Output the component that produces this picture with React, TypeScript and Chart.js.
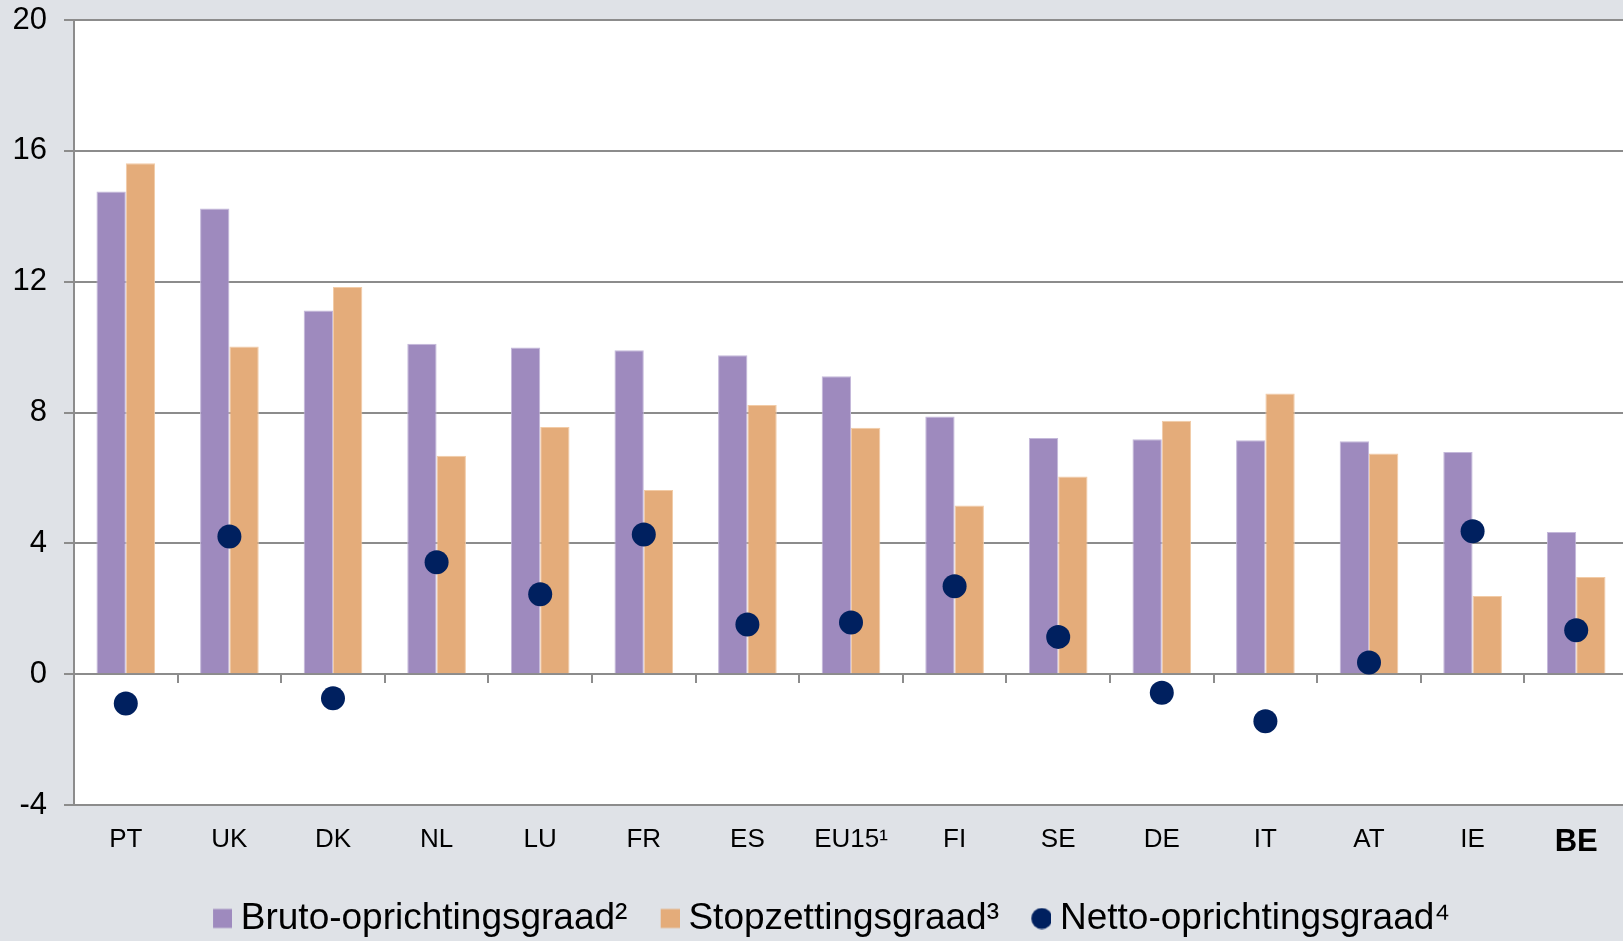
import React, { useEffect, useRef } from 'react';
import { Chart, registerables } from 'chart.js';

Chart.register(...registerables);

const categories = ['PT', 'UK', 'DK', 'NL', 'LU', 'FR', 'ES', 'EU15¹', 'FI', 'SE', 'DE', 'IT', 'AT', 'IE', 'BE'];
const brutoValues = [14.76, 14.24, 11.12, 10.1, 9.99, 9.9, 9.75, 9.11, 7.88, 7.22, 7.18, 7.15, 7.12, 6.79, 4.35];
const stopValues = [15.62, 10.02, 11.84, 6.68, 7.56, 5.63, 8.23, 7.53, 5.16, 6.04, 7.75, 8.58, 6.75, 2.39, 2.97];
const nettoValues = [-0.9, 4.21, -0.74, 3.42, 2.44, 4.27, 1.52, 1.58, 2.69, 1.14, -0.57, -1.44, 0.36, 4.37, 1.34];
const seriesNames = ['Bruto-oprichtingsgraad²', 'Stopzettingsgraad³', 'Netto-oprichtingsgraad⁴'];
const yMin = -4;
const yMax = 20;
const yStep = 4;

const FONT = '"Liberation Sans", Arial, Helvetica, sans-serif';
const BG = '#DFE2E7';
const GRID = '#8C8C8C';
const PURPLE = '#9E8ABE';
const ORANGE = '#E4AC7A';
const NAVY = '#00205F';

function makeIcon(kind: string, color: string) {
  const c = document.createElement('canvas');
  c.width = 52;
  c.height = 22;
  const ctx = c.getContext('2d')!;
  ctx.fillStyle = color;
  if (kind === 'rect') {
    ctx.fillRect(33, 1.5, 19, 19);
  } else {
    ctx.beginPath();
    ctx.arc(42.5, 11, 10.5, 0, Math.PI * 2);
    ctx.fill();
  }
  return c;
}

const plotBg = {
  id: 'plotBg',
  beforeDraw(chart: any) {
    const { ctx, chartArea: a } = chart;
    ctx.save();
    ctx.fillStyle = '#FFFFFF';
    ctx.fillRect(a.left, a.top, a.right - a.left, a.bottom - a.top);
    ctx.restore();
  },
};

export default function App() {
  const ref = useRef<HTMLCanvasElement | null>(null);

  useEffect(() => {
    if (!ref.current) return;
    const icons = [makeIcon('rect', PURPLE), makeIcon('rect', ORANGE), makeIcon('circle', NAVY)];
    const chart = new Chart(ref.current, {
      type: 'bar',
      data: {
        labels: categories,
        datasets: [
          {
            type: 'bar',
            label: seriesNames[0],
            data: brutoValues,
            backgroundColor: PURPLE,
            borderColor: '#C4B8DA',
            borderWidth: 1,
            categoryPercentage: 0.566,
            barPercentage: 1,
            order: 1,
          },
          {
            type: 'bar',
            label: seriesNames[1],
            data: stopValues,
            backgroundColor: ORANGE,
            borderColor: '#F2CBA6',
            borderWidth: 1,
            categoryPercentage: 0.566,
            barPercentage: 1,
            order: 1,
          },
          {
            type: 'line',
            label: seriesNames[2],
            data: nettoValues,
            showLine: false,
            pointRadius: 12,
            pointHoverRadius: 12,
            pointBackgroundColor: NAVY,
            pointBorderWidth: 0,
            borderColor: NAVY,
            backgroundColor: NAVY,
            order: 0,
          },
        ] as any,
      },
      options: {
        responsive: false,
        animation: false,
        devicePixelRatio: 1,
        layout: { padding: { top: 20, left: 0, right: 0, bottom: 0 } },
        plugins: {
          tooltip: { enabled: false },
          legend: {
            position: 'bottom',
            labels: {
              usePointStyle: true,
              boxWidth: 32.5,
              padding: 10,
              color: '#000',
              font: { family: FONT, size: 37 },
              generateLabels: (ch: any) =>
                ch.data.datasets.map((ds: any, i: number) => ({
                  text: ds.label,
                  pointStyle: icons[i],
                  fillStyle: 'rgba(0,0,0,0)',
                  strokeStyle: 'rgba(0,0,0,0)',
                  lineWidth: 0,
                  hidden: false,
                  datasetIndex: i,
                  fontColor: '#000',
                })),
            },
          },
        },
        scales: {
          x: {
            type: 'category',
            offset: true,
            grid: { display: false, drawTicks: false },
            border: { display: true, color: GRID, width: 2 },
            ticks: {
              color: '#000',
              padding: 19,
              maxRotation: 0,
              autoSkip: false,
              font: (c: any) =>
                c.index === categories.length - 1
                  ? { family: FONT, size: 31, weight: 'bold' }
                  : { family: FONT, size: 26 },
            },
            afterFit: (s: any) => {
              s.height = 85;
              s.paddingLeft = 0;
              s.paddingRight = 0;
            },
          },
          x2: {
            type: 'category',
            axis: 'x',
            position: { y: 0 },
            offset: true,
            grid: { offset: true, drawOnChartArea: false, drawTicks: true, tickLength: 8, color: GRID, lineWidth: 2 },
            border: { display: true, color: GRID, width: 2 },
            ticks: { display: false },
            afterFit: (s: any) => {
              s.paddingLeft = 0;
              s.paddingRight = 0;
            },
          },
          y: {
            min: yMin,
            max: yMax,
            ticks: { stepSize: yStep, padding: 17, color: '#000', font: { family: FONT, size: 31 } },
            grid: { color: GRID, lineWidth: 2, tickLength: 10 },
            border: { color: GRID, width: 2 },
            afterFit: (s: any) => {
              s.width = 74;
              s.paddingTop = 0;
              s.paddingBottom = 0;
            },
          },
        } as any,
      },
      plugins: [plotBg],
    });
    return () => chart.destroy();
  }, []);

  return (
    <div
      style={{
        position: 'fixed',
        left: 0,
        top: 0,
        width: 1623,
        height: 941,
        overflow: 'hidden',
        background: BG,
      }}
    >
      <canvas ref={ref} width={1640} height={947} style={{ display: 'block', width: 1640, height: 947 }} />
    </div>
  );
}
